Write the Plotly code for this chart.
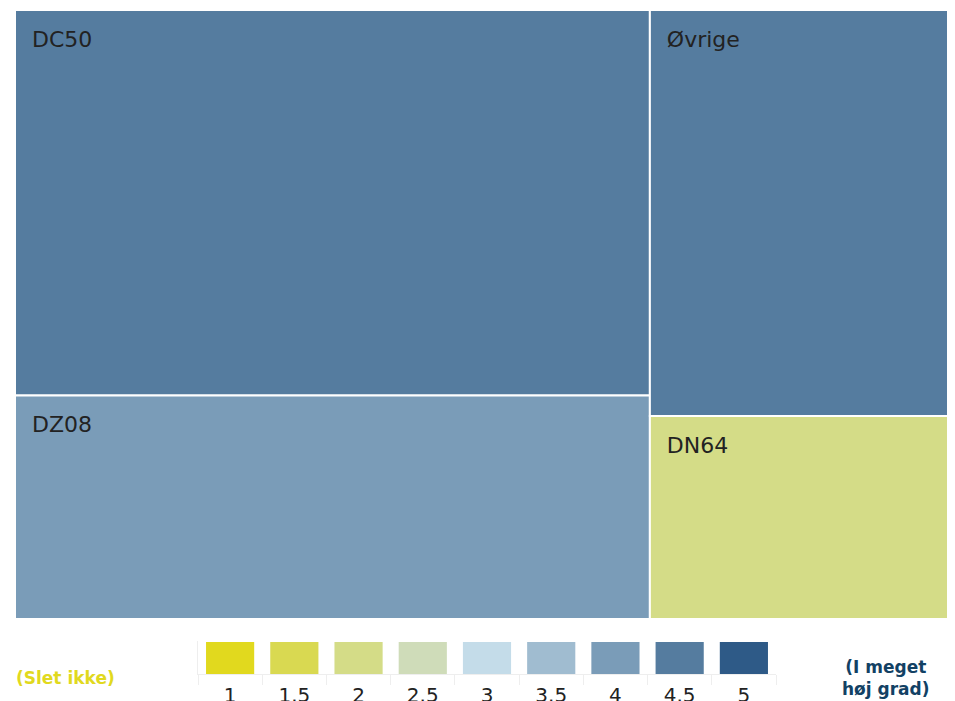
import plotly.graph_objects as go

# Treemap tiles
tile_labels = ["DC50", "DZ08", "Øvrige", "DN64"]
tile_values = [245, 142, 124, 62]
tile_scores = ["4.5", "4", "4.5", "2"]

# Colour scale legend
scale_steps = ["1", "1.5", "2", "2.5", "3", "3.5", "4", "4.5", "5"]
scale_colors = [
    "#e1d91e",
    "#d9d951",
    "#d4dc87",
    "#cfdcb9",
    "#c4dce9",
    "#a0bcd0",
    "#7a9cb8",
    "#557c9f",
    "#2e5a87",
]
scale_heights = [1] * len(scale_steps)

color_lookup = dict(zip(scale_steps, scale_colors))

OFF = 8  # page body margin
W, H = 955 - OFF, 701


def px_x(v):
    return (v - OFF) / W


def px_y(v):
    return 1 - (v - OFF) / H


fig = go.Figure()

# Treemap
fig.add_trace(
    go.Treemap(
        labels=tile_labels,
        parents=[""] * len(tile_labels),
        values=tile_values,
        marker=dict(
            colors=[color_lookup[s] for s in tile_scores],
            line=dict(color="white", width=2),
            pad=dict(t=0, l=0, r=0, b=0),
        ),
        tiling=dict(pad=0, squarifyratio=1.618),
        textposition="top left",
        texttemplate="\u00a0<br><span style='font-size:22px'>\u00a0\u00a0%{label}</span>",
        textfont=dict(family="DejaVu Sans", size=15, color="#222222"),
        pathbar=dict(visible=False),
        sort=True,
        hoverinfo="label",
        domain=dict(x=[px_x(15), 1], y=[px_y(619), px_y(10)]),
    )
)

# Legend bars
fig.add_trace(
    go.Bar(
        x=scale_steps,
        y=scale_heights,
        marker=dict(color=scale_colors, line=dict(width=0)),
        width=0.75,
        showlegend=False,
        hoverinfo="x",
    )
)

fig.update_layout(
    width=W,
    height=H,
    margin=dict(l=0, r=0, t=0, b=0),
    paper_bgcolor="white",
    plot_bgcolor="white",
    showlegend=False,
    font=dict(family="DejaVu Sans", color="#222222"),
    xaxis=dict(
        domain=[px_x(198), px_x(776)],
        type="category",
        tickson="boundaries",
        ticks="outside",
        ticklen=10,
        tickcolor="#eeeeee",
        ticklabelstandoff=3,
        showline=True,
        linecolor="#eeeeee",
        showgrid=False,
        tickfont=dict(size=20, color="#222222"),
        fixedrange=True,
    ),
    yaxis=dict(
        domain=[px_y(674), px_y(641)],
        range=[0, 1.03],
        tickvals=[1.03],
        showticklabels=False,
        showgrid=True,
        gridcolor="#eeeeee",
        showline=True,
        linecolor="#eeeeee",
        zeroline=False,
        fixedrange=True,
    ),
    annotations=[
        dict(
            text="<b>(Slet ikke)</b>",
            x=px_x(65),
            y=px_y(678),
            xref="paper",
            yref="paper",
            xanchor="center",
            yanchor="middle",
            showarrow=False,
            font=dict(size=17, color="#e1d91e"),
        ),
        dict(
            text="<b>(I meget<br>høj grad)</b>",
            x=px_x(886),
            y=px_y(678),
            xref="paper",
            yref="paper",
            xanchor="center",
            yanchor="middle",
            showarrow=False,
            font=dict(size=17, color="#124164"),
        ),
    ],
)

fig.write_html("out.html", config={"displayModeBar": False})
